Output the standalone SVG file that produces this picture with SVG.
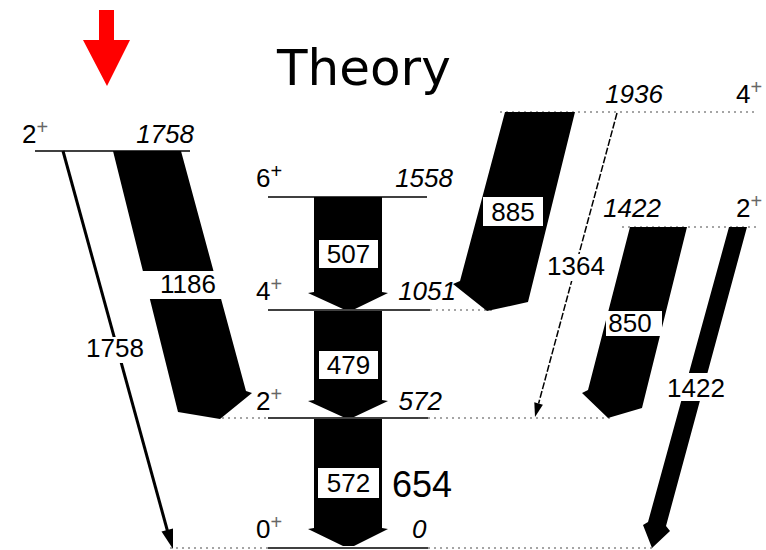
<svg xmlns="http://www.w3.org/2000/svg" width="766" height="550" viewBox="0 0 766 550">
<style>
text{font-family:"Liberation Sans",Arial,sans-serif;fill:#000}
.lbl{font-size:26px}
.en{font-size:26px;font-style:italic}
.sup{font-size:20px;fill:#666}
.solid{stroke:#000;stroke-width:1.5;fill:none}
.dot{stroke:#888;stroke-width:1.5;stroke-dasharray:2 4;fill:none}
.band{fill:#000}
.box{fill:#fff}
</style>
<rect width="766" height="550" fill="#fff"/>
<polygon points="99,10 114,10 114,40 130,40 107,86 83,40 99,40" fill="#ff0000"/>
<text x="277" y="85" style="font-family:'DejaVu Sans',sans-serif;font-size:50px">Theory</text>

<g id="level-2p-1758">
<line class="solid" x1="35" y1="151" x2="190" y2="151"/>
<text class="lbl" x="22" y="143">2<tspan class="sup" dy="-9">+</tspan></text>
<text class="en" x="194" y="143" text-anchor="end">1758</text>
</g>
<g id="level-6p-1558">
<line class="solid" x1="268" y1="197" x2="427" y2="197"/>
<text class="lbl" x="256" y="187">6<tspan class="sup" dy="-9" style="fill:#000">+</tspan></text>
<text class="en" x="453" y="187" text-anchor="end">1558</text>
</g>
<g id="level-4p-1051">
<line class="solid" x1="268" y1="310" x2="430" y2="310"/>
<line class="dot" x1="430" y1="310" x2="492" y2="310"/>
<text class="lbl" x="256" y="300">4<tspan class="sup" dy="-9">+</tspan></text>
<text class="en" x="456" y="300" text-anchor="end">1051</text>
</g>
<g id="level-2p-572">
<line class="dot" x1="222" y1="418" x2="268" y2="418"/>
<line class="solid" x1="268" y1="418" x2="428" y2="418"/>
<line class="dot" x1="428" y1="418" x2="610" y2="418"/>
<text class="lbl" x="256" y="410">2<tspan class="sup" dy="-9">+</tspan></text>
<text class="en" x="442" y="410" text-anchor="end">572</text>
</g>
<g id="level-0p-0">
<line class="dot" x1="170" y1="548" x2="268" y2="548"/>
<line class="solid" x1="268" y1="548" x2="428" y2="548"/>
<line class="dot" x1="428" y1="548" x2="652" y2="548"/>
<text class="lbl" x="256" y="538">0<tspan class="sup" dy="-9">+</tspan></text>
<text class="en" x="412" y="538">0</text>
</g>
<g id="level-4p-1936">
<line class="dot" x1="500" y1="112" x2="757" y2="112"/>
<text class="en" x="663" y="103" text-anchor="end">1936</text>
<text class="lbl" x="736" y="103">4<tspan class="sup" dy="-9">+</tspan></text>
</g>
<g id="level-2p-1422">
<line class="dot" x1="622" y1="227" x2="757" y2="227"/>
<text class="en" x="661" y="217" text-anchor="end">1422</text>
<text class="lbl" x="736" y="217">2<tspan class="sup" dy="-9">+</tspan></text>
</g>

<g id="connectors">
<!-- 1758 -->
<line x1="63" y1="151" x2="167.5" y2="531" stroke="#000" stroke-width="3"/>
<polygon points="173,549 173,528.5 161.5,531.5" fill="#000"/>
<rect class="box" x="80" y="337" width="70" height="26"/>
<text class="lbl" x="115" y="357" text-anchor="middle">1758</text>
<!-- 1186 -->
<polygon class="band" points="113,151 181,151 246,391 252,393 220,419 178,412"/>
<rect class="box" x="140" y="271" width="86" height="28"/>
<text class="lbl" x="188" y="293" text-anchor="middle">1186</text>
<!-- 507 -->
<polygon class="band" points="314,197 382,197 382,292 388,293 355,309 343,309 308,293 314,292"/>
<rect class="box" x="319" y="240" width="59" height="28"/>
<text class="lbl" x="348.5" y="263" text-anchor="middle">507</text>
<!-- 479 -->
<polygon class="band" points="314,311 382,311 382,400 388,401 354,417 343,417 308,401 314,400"/>
<rect class="box" x="319" y="351" width="59" height="28"/>
<text class="lbl" x="348.5" y="374" text-anchor="middle">479</text>
<!-- 572 -->
<polygon class="band" points="314,419 382,419 382,528 388,529 354,546 343,546 308,529 314,528"/>
<rect class="box" x="318" y="468" width="61" height="30"/>
<text class="lbl" x="348.5" y="492" text-anchor="middle">572</text>
<text x="392" y="497" style="font-size:36px">654</text>
<!-- 885 -->
<polygon class="band" points="505,112 575,112 528,302 487,311 453,284 460,281"/>
<rect class="box" x="483" y="197" width="60" height="29"/>
<text class="lbl" x="513" y="221" text-anchor="middle">885</text>
<!-- 1364 -->
<line x1="617" y1="113" x2="538.6" y2="403.5" stroke="#000" stroke-width="1.5" stroke-dasharray="7 2"/>
<polygon points="535,417 542.9,404.7 534.3,402.3" fill="#000"/>
<rect class="box" x="545" y="254" width="63" height="27"/>
<text class="lbl" x="576" y="275" text-anchor="middle">1364</text>
<!-- 850 -->
<polygon class="band" points="630,227 687,227 642,408 608,418 582,393 588,390"/>
<rect class="box" x="606" y="311" width="56" height="25"/>
<text class="lbl" x="630" y="332" text-anchor="middle">850</text>
<!-- 1422 -->
<polygon class="band" points="729,227 747,227 666,526 670,531 652,548 643,525 648,522"/>
<rect class="box" x="664" y="373" width="64" height="28"/>
<text class="lbl" x="696" y="397" text-anchor="middle">1422</text>
</g>
</svg>
